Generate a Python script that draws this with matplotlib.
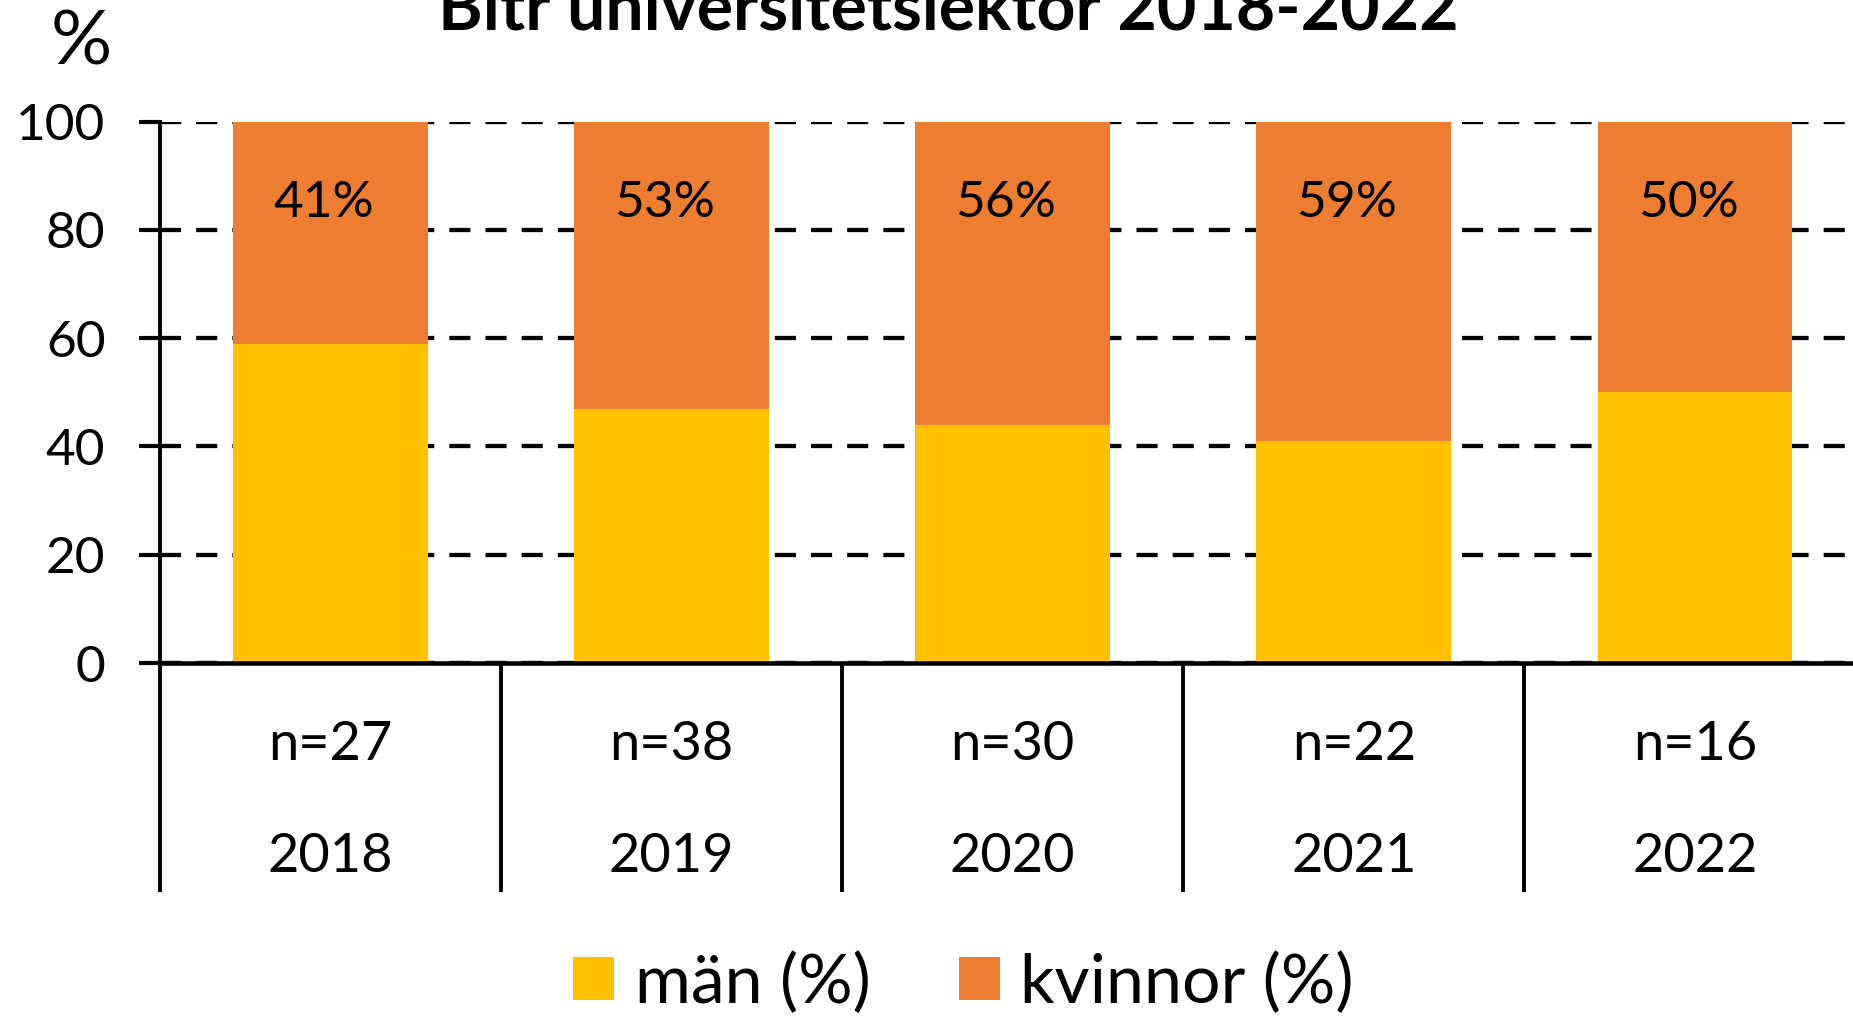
import matplotlib
matplotlib.use("Agg")
import matplotlib.pyplot as plt
from matplotlib.patches import Patch
import numpy as np

years = ["2018", "2019", "2020", "2021", "2022"]
n_labels = ["n=27", "n=38", "n=30", "n=22", "n=16"]
men = [59, 47, 44, 41, 50]
women = [41, 53, 56, 59, 50]
women_labels = ["41%", "53%", "56%", "59%", "50%"]
title = "Bitr universitetslektor 2018-2022"

YELLOW = "#FFC000"
ORANGE = "#ED7D31"
REG = ["Lato", "DejaVu Sans"]

fig = plt.figure(figsize=(18.53, 10.18), dpi=100)
ax = fig.add_axes([0.0861, 0.3487, 0.9207, 0.5318])

x = np.arange(len(years))
ax.bar(x, men, width=0.571, color=YELLOW, zorder=3)
ax.bar(x, women, bottom=men, width=0.571, color=ORANGE, zorder=3)

ax.set_xlim(-0.5, 4.5)
ax.set_ylim(0, 100)
ax.set_yticks([0, 20, 40, 60, 80, 100])
ax.set_yticklabels(["0", "20", "40", "60", "80", "100"], fontsize=37, family=REG)
ax.tick_params(axis="y", direction="out", length=15, width=3.0, pad=24, color="black")
ax.set_xticks([])

ax.yaxis.grid(True, color="black", linewidth=3.1, linestyle=(0, (4.9, 3.5)))
ax.set_axisbelow(True)

for s in ["top", "right"]:
    ax.spines[s].set_visible(False)
ax.spines["left"].set_linewidth(2.8)
ax.spines["bottom"].set_linewidth(3.3)
ax.spines["bottom"].set_zorder(5)

# category dividers below axis
ax.vlines(np.arange(-0.5, 5.0, 1.0), -42.3, 0, colors="black", linewidth=2.8, clip_on=False)

for xi, lab in zip(x, women_labels):
    ax.text(xi - 0.02, 85.0, lab, ha="center", va="center", fontsize=37, family=REG, zorder=6)

xt = ax.get_xaxis_transform()
for xi, nl, yr in zip(x, n_labels, years):
    ax.text(xi, -0.150, nl, transform=xt, ha="center", va="center", fontsize=39, family=REG)
    ax.text(xi, -0.358, yr, transform=xt, ha="center", va="center", fontsize=39, family=REG)

fig.text(0.044, 1 - 43 / 1018, "%", ha="center", va="center", fontsize=55, family=REG)
fig.text(0.512, 1 - 30 / 1018, title, ha="center", va="baseline", fontsize=49,
         fontweight="bold", family=REG)

handles = [Patch(facecolor=YELLOW, edgecolor="none", label="män (%)"),
           Patch(facecolor=ORANGE, edgecolor="none", label="kvinnor (%)")]
fig.legend(handles=handles, loc="center", bbox_to_anchor=(0.52, 0.034), ncol=2,
           frameon=False, prop={"family": REG, "size": 49},
           handlelength=0.6, handleheight=0.6, handletextpad=0.3, columnspacing=1.3,
           borderpad=0)

fig.savefig("out.png", dpi=100)
